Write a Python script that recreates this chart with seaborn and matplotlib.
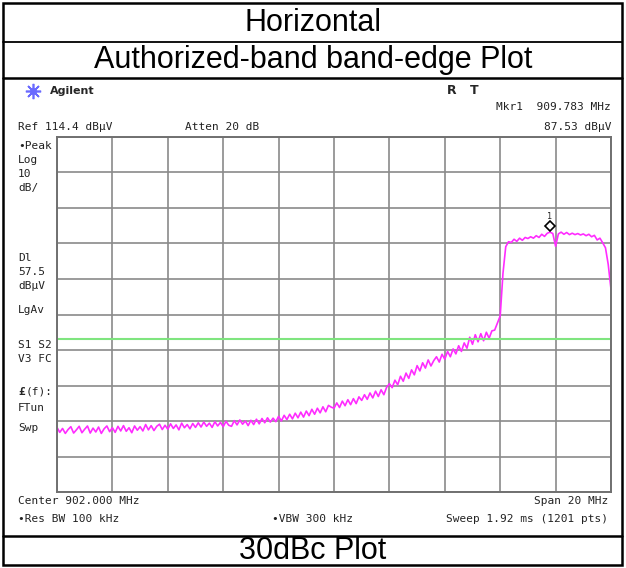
import numpy as np
import pandas as pd
import matplotlib
matplotlib.use("Agg")
import matplotlib.pyplot as plt
import matplotlib.transforms as mtransforms
from matplotlib.patches import Rectangle
import seaborn as sns

# analyzer settings
center_mhz = 902.0
span_mhz = 20.0
ref_level = 114.4
db_per_div = 10
display_line = 57.5
marker_freq = 909.783
marker_level = 87.53

# peak trace in dBuV, one value per 0.1 MHz from 892 to 912 MHz
trace_dbuv = [
    32.6, 31.2, 32.3, 30.9, 32.0, 32.8, 31.0, 31.9, 32.9, 31.1,
    32.1, 33.0, 31.0, 32.4, 31.3, 32.7, 30.9, 32.2, 33.0, 31.4,
    32.5, 31.2, 32.9, 31.6, 33.1, 31.5, 32.5, 31.1, 33.0, 31.8,
    32.8, 31.6, 33.4, 31.9, 33.1, 31.7, 32.9, 33.5, 32.0, 33.2,
    32.1, 33.6, 32.3, 33.3, 31.9, 33.8, 32.5, 33.4, 32.2, 33.7,
    32.6, 33.9, 32.7, 34.1, 32.9, 33.8, 32.6, 34.2, 33.0, 34.0,
    32.8, 34.3, 33.2, 32.9, 34.5, 33.3, 34.7, 33.5, 34.4, 33.1,
    34.6, 33.4, 34.9, 33.6, 35.1, 33.9, 35.3, 34.1, 35.2, 34.2,
    35.7, 34.4, 36.0, 34.8, 36.3, 35.0, 36.6, 35.3, 36.9, 35.5,
    37.2, 35.9, 37.7, 36.3, 38.0, 36.7, 38.4, 37.0, 38.8, 38.3,
    38.0, 39.5, 38.2, 40.0, 38.7, 40.4, 39.0, 40.7, 39.3, 41.2,
    40.2, 41.8, 40.5, 42.3, 40.9, 42.8, 41.3, 43.2, 41.8, 43.9,
    44.9, 43.8, 45.9, 44.6, 47.0, 45.6, 47.9, 46.4, 48.8, 47.4,
    50.0, 48.5, 50.8, 49.3, 51.6, 49.9, 51.4, 52.5, 51.0, 53.2,
    51.8, 54.0, 52.5, 54.7, 53.3, 55.6, 54.0, 56.4, 54.9, 58.0,
    56.0, 58.7, 56.7, 59.0, 57.0, 59.4, 57.7, 59.8, 60.0, 62.0,
    64.0, 76.0, 83.5, 84.9, 84.7, 85.6, 85.0, 85.9, 85.3, 86.1,
    85.8, 86.3, 85.9, 86.6, 86.1, 87.0, 86.4, 87.3, 87.6, 87.2,
    83.6, 87.1, 87.6, 87.0, 87.5, 86.9, 87.3, 86.9, 87.2, 86.8,
    87.1, 86.6, 87.0, 86.3, 86.7, 85.4, 85.9, 84.6, 83.2, 78.5,
    71.5,
]

freq = np.linspace(center_mhz - span_mhz / 2, center_mhz + span_mhz / 2, len(trace_dbuv))
df = pd.DataFrame({"freq": freq, "level": trace_dbuv})

sns.set_style("white")
W, H = 626, 568
fig = plt.figure(figsize=(W / 100, H / 100), dpi=100)

# background axes in pixel units for the table frame and screen text
bg = fig.add_axes([0, 0, 1, 1])
bg.set_xlim(0, W)
bg.set_ylim(H, 0)
bg.axis("off")

bg.add_patch(Rectangle((3, 3), 619, 562, fill=False, lw=1.8, ec="black"))
bg.plot([3, 622], [42, 42], color="black", lw=1.3)
bg.plot([3, 622], [78, 78], color="black", lw=1.8)
bg.plot([3, 622], [536, 536], color="black", lw=1.8)

title_font = dict(family="Liberation Sans", fontsize=22, color="black",
                  ha="center", va="center")
bg.text(313, 23, "Horizontal", **title_font)
bg.text(313, 60, "Authorized-band band-edge Plot", **title_font)
bg.text(313, 551, "30dBc Plot", **title_font)

mono = dict(family="DejaVu Sans Mono", fontsize=8, color="#222222", va="center")

# Agilent logo
bg.plot([33], [91], marker=(8, 2, 0), ms=11, color="#6a6aff", mew=1.2)
bg.plot([33], [91], marker="o", ms=4, color="#6a6aff")
bg.text(50, 91, "Agilent", family="DejaVu Sans", fontsize=8, weight="bold", va="center")
bg.text(447, 91, "R", family="DejaVu Sans", fontsize=9, weight="bold", va="center")
bg.text(470, 91, "T", family="DejaVu Sans", fontsize=9, weight="bold", va="center")

bg.text(611, 107, f"Mkr1  {marker_freq:.3f} MHz", ha="right", **mono)
bg.text(18, 127, f"Ref {ref_level} dBμV", **mono)
bg.text(185, 127, "Atten 20 dB", **mono)
bg.text(611, 127, f"{marker_level:.2f} dBμV", ha="right", **mono)

left_labels = [("•Peak", 146), ("Log", 160), (f"{db_per_div}", 174), ("dB/", 188),
               ("Dl", 258), (f"{display_line}", 272), ("dBμV", 286), ("LgAv", 310),
               ("S1 S2", 345), ("V3 FC", 359), ("FTun", 408), ("Swp", 428)]
for s, y in left_labels:
    bg.text(18, y, s, **mono)
bg.text(18, 392, "£", family="DejaVu Sans Mono", fontsize=8, weight="bold", va="center")
bg.text(26, 392, "(f):", **mono)

bg.text(18, 501, f"Center {center_mhz:.3f} MHz", **mono)
bg.text(608, 501, f"Span {span_mhz:.0f} MHz", ha="right", **mono)
bg.text(18, 519, "•Res BW 100 kHz", **mono)
bg.text(272, 519, "•VBW 300 kHz", **mono)
bg.text(608, 519, "Sweep 1.92 ms (1201 pts)", ha="right", **mono)

# spectrum graticule
ax = fig.add_axes([57 / W, 1 - 492 / H, 554 / W, 355 / H])
ax.set_axisbelow(True)
sns.lineplot(data=df, x="freq", y="level", ax=ax, color="#ff2cff", lw=1.2)
ax.axhline(display_line, color="#7fe57f", lw=1.5)

ax.set_xlim(center_mhz - span_mhz / 2, center_mhz + span_mhz / 2)
ax.set_ylim(ref_level - 10 * db_per_div, ref_level)
ax.set_xticks(np.linspace(center_mhz - span_mhz / 2, center_mhz + span_mhz / 2, 11))
ax.set_yticks(np.linspace(ref_level - 10 * db_per_div, ref_level, 11))
ax.grid(True, color="#8a8a8a", lw=1.2)
ax.tick_params(length=0, labelbottom=False, labelleft=False)
ax.set_xlabel("")
ax.set_ylabel("")
for sp in ax.spines.values():
    sp.set_color("#707070")
    sp.set_linewidth(1.4)

# marker 1
up = mtransforms.offset_copy(ax.transData, fig=fig, x=0, y=6, units="dots")
ax.plot([marker_freq], [marker_level], marker="D", ms=5, mfc="white", mec="black",
        mew=1.2, transform=up, clip_on=False)
up2 = mtransforms.offset_copy(ax.transData, fig=fig, x=0, y=16, units="dots")
ax.text(marker_freq, marker_level, "1", fontsize=6, ha="center", va="center",
        transform=up2, family="DejaVu Sans Mono")

fig.savefig("out.png", dpi=100)
